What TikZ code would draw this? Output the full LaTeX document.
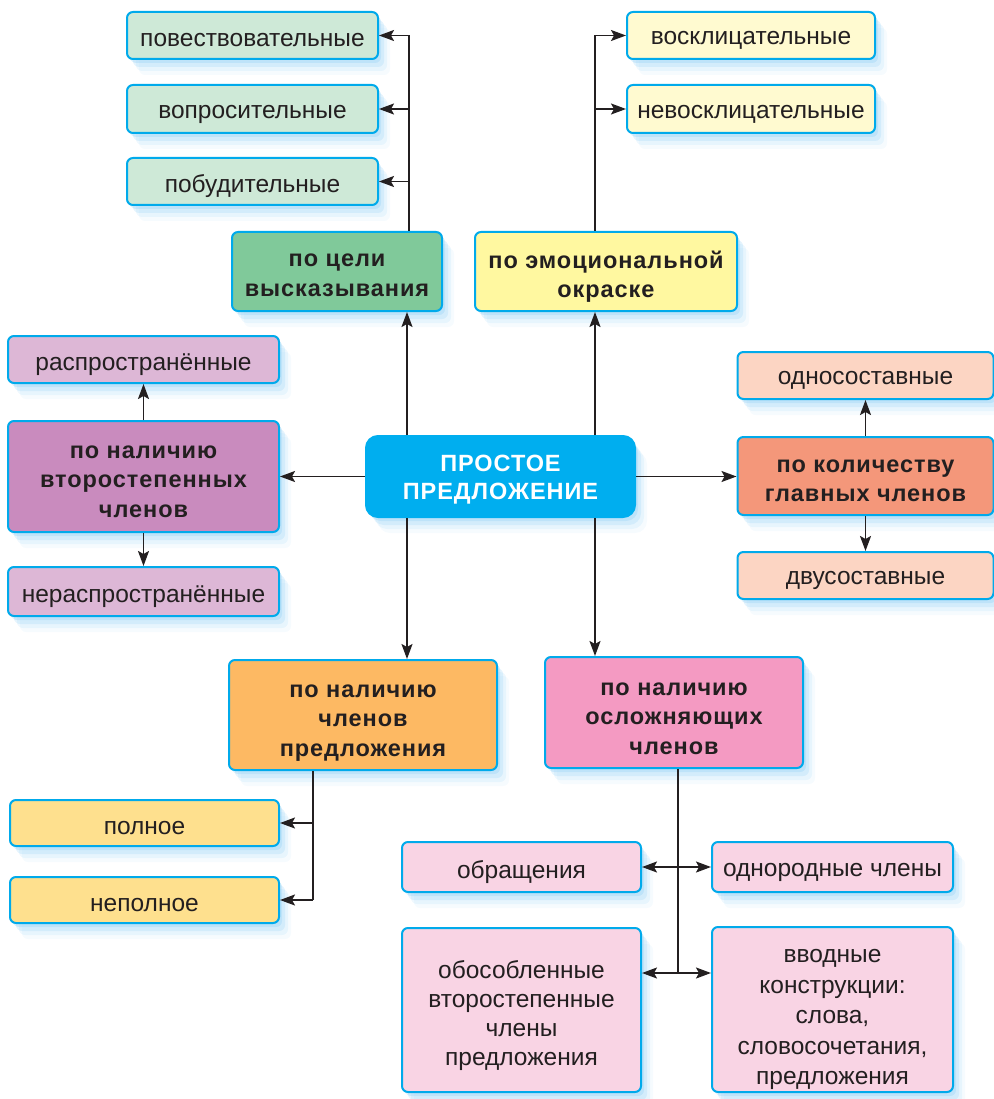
\documentclass[tikz,border=0pt]{standalone}
\usepackage{fontspec}
\setmainfont{Liberation Sans}
\newfontfamily\boldfam[LetterSpace=4]{Liberation Sans Bold}
\usetikzlibrary{arrows.meta,shadows}
\definecolor{bord}{RGB}{0,170,235}
\definecolor{txt}{RGB}{35,31,32}
\definecolor{glowc}{RGB}{140,205,245}
\definecolor{gD}{RGB}{128,201,154}
\definecolor{gL}{RGB}{206,233,215}
\definecolor{yD}{RGB}{255,248,160}
\definecolor{yL}{RGB}{255,250,208}
\definecolor{pD}{RGB}{201,139,190}
\definecolor{pL}{RGB}{221,183,214}
\definecolor{sD}{RGB}{244,151,122}
\definecolor{sL}{RGB}{252,213,195}
\definecolor{oD}{RGB}{253,185,99}
\definecolor{oL}{RGB}{254,224,142}
\definecolor{kD}{RGB}{244,154,194}
\definecolor{kL}{RGB}{249,212,228}
\definecolor{cen}{RGB}{0,174,239}
\begin{document}
\begin{tikzpicture}[x=1pt,y=-1pt,
  glow/.style={
    general shadow={fill=glowc, fill opacity=0.30, draw=none, shadow xshift=3pt, shadow yshift=-4pt},
    general shadow={fill=glowc, fill opacity=0.22, draw=none, shadow xshift=6pt, shadow yshift=-8pt},
    general shadow={fill=glowc, fill opacity=0.14, draw=none, shadow xshift=9pt, shadow yshift=-12pt},
    general shadow={fill=glowc, fill opacity=0.08, draw=none, shadow xshift=12pt, shadow yshift=-16pt}},
  box/.style={draw=bord, line width=2pt, rounded corners=6pt, inner sep=0pt, glow},
  lbl/.style={align=center, inner sep=0pt, text=txt, yshift=-5pt,
    font=\fontsize{24.5}{30.5}\selectfont},
  blbl/.style={lbl, font=\boldfam\fontsize{23.5}{29.5}\selectfont},
  sz/.style 2 args={minimum width=#1, minimum height=#2},
  ln/.style={line width=1.8pt, draw=txt},
  arr/.style={ln, -{Stealth[length=15pt,width=11pt,inset=3pt]}},
  darr/.style={ln, {Stealth[length=15pt,width=11pt,inset=3pt]}-{Stealth[length=15pt,width=11pt,inset=3pt]}}
]
\useasboundingbox (0,0) rectangle (993,1099);

% top left
\node[box, fill=gL, sz={251pt}{47pt}, label={[lbl]center:повествовательные}] (pov) at (252.5,35.5) {};
\node[box, fill=gL, sz={251pt}{48pt}, label={[lbl]center:вопросительные}] (vop) at (252.5,109) {};
\node[box, fill=gL, sz={251pt}{47pt}, label={[lbl]center:побудительные}] (pob) at (252.5,181.5) {};
\node[box, fill=gD, sz={210pt}{79pt}, label={[blbl, yshift=1pt]center:{по цели\\высказывания}}] (celi) at (337,271.5) {};
% top right
\node[box, fill=yD, sz={262pt}{79pt}, label={[blbl]center:{по эмоциональной\\окраске}}] (emo) at (606,271.5) {};
\node[box, fill=yL, sz={248pt}{47pt}, label={[lbl]center:восклицательные}] (vosk) at (751,35.5) {};
\node[box, fill=yL, sz={248pt}{48pt}, label={[lbl]center:невосклицательные}] (nevosk) at (751,109) {};
% center
\node[box, draw=cen, fill=cen, sz={269pt}{81pt}, rounded corners=12pt,
  label={[blbl, yshift=2pt, text=white, font=\boldfam\fontsize{23.5}{28.5}\selectfont]center:{ПРОСТОЕ\\ПРЕДЛОЖЕНИЕ}}] (cen) at (500.5,476.5) {};
% left
\node[box, fill=pL, sz={271pt}{47pt}, label={[lbl]center:распространённые}] (rasp) at (143.5,359.5) {};
\node[box, fill=pD, sz={271pt}{111pt}, label={[blbl]center:{по наличию\\второстепенных\\членов}}] (vtor) at (143.5,476.5) {};
\node[box, fill=pL, sz={271pt}{49pt}, label={[lbl]center:нераспространённые}] (nerasp) at (143.5,591.5) {};
% right
\node[box, fill=sL, sz={256pt}{47pt}, label={[lbl]center:односоставные}] (odnos) at (865.5,375.5) {};
\node[box, fill=sD, sz={256pt}{78pt}, label={[blbl]center:{по количеству\\главных членов}}] (kol) at (865.5,476) {};
\node[box, fill=sL, sz={256pt}{47pt}, label={[lbl]center:двусоставные}] (dvus) at (865.5,575.5) {};
% bottom
\node[box, fill=oD, sz={268pt}{110pt}, label={[blbl, yshift=-3pt]center:{по наличию\\членов\\предложения}}] (chl) at (363,715) {};
\node[box, fill=kD, sz={258pt}{111pt}, label={[blbl, yshift=-1pt]center:{по наличию\\осложняющих\\членов}}] (osl) at (674,712.5) {};
\node[box, fill=oL, sz={269pt}{46pt}, label={[lbl]center:полное}] (poln) at (144.5,823) {};
\node[box, fill=oL, sz={269pt}{46pt}, label={[lbl]center:неполное}] (nepoln) at (144.5,900) {};
\node[box, fill=kL, sz={239pt}{50pt}, label={[lbl]center:обращения}] (obr) at (521.5,867) {};
\node[box, fill=kL, sz={241pt}{50pt}, label={[lbl]center:однородные члены}] (odnor) at (832.5,867) {};
\node[box, fill=kL, sz={239pt}{164pt}, label={[lbl, yshift=-1pt, font=\fontsize{24.5}{29}\selectfont]center:{обособленные\\второстепенные\\члены\\предложения}}] (obos) at (521.5,1010) {};
\node[box, fill=kL, sz={241pt}{165pt}, label={[lbl, yshift=-5pt]center:{вводные\\конструкции:\\слова,\\словосочетания,\\предложения}}] (vvod) at (832.5,1009.5) {};

% guide coordinates
\coordinate (xa) at (409,0);
\coordinate (xb) at (595,0);
\coordinate (xc) at (407,0);
\coordinate (xd) at (313,0);
\coordinate (xe) at (678,0);
\coordinate (ya) at (0,973);

% connectors top-left
\draw[ln] (xa |- celi.north) -- (xa |- pov.east);
\draw[arr] (xa |- pov.east) -- (pov.east);
\draw[arr] (xa |- vop.east) -- (vop.east);
\draw[arr] (xa |- pob.east) -- (pob.east);
% top-right
\draw[ln] (xb |- emo.north) -- (xb |- vosk.west);
\draw[arr] (xb |- vosk.west) -- (vosk.west);
\draw[arr] (xb |- nevosk.west) -- (nevosk.west);
% center
\draw[arr] (xc |- cen.north) -- (xc |- celi.south);
\draw[arr] (xb |- cen.north) -- (xb |- emo.south);
\draw[arr] (xc |- cen.south) -- (xc |- chl.north);
\draw[arr] (xb |- cen.south) -- (xb |- osl.north);
\draw[arr] (cen.west) -- (cen.west -| vtor.east);
\draw[arr] (cen.east) -- (cen.east -| kol.west);
% left / right
\draw[arr] (vtor.north) -- (rasp.south);
\draw[arr] (vtor.south) -- (nerasp.north);
\draw[arr] (kol.north) -- (odnos.south);
\draw[arr] (kol.south) -- (dvus.north);
% bottom left
\draw[ln] (xd |- chl.south) -- (xd |- nepoln.east);
\draw[arr] (xd |- poln.east) -- (poln.east);
\draw[arr] (xd |- nepoln.east) -- (nepoln.east);
% bottom right
\draw[ln] (xe |- osl.south) -- (xe |- ya);
\draw[darr] (obr.east) -- (odnor.west);
\draw[darr] (ya -| obos.east) -- (ya -| vvod.west);
\end{tikzpicture}
\end{document}
